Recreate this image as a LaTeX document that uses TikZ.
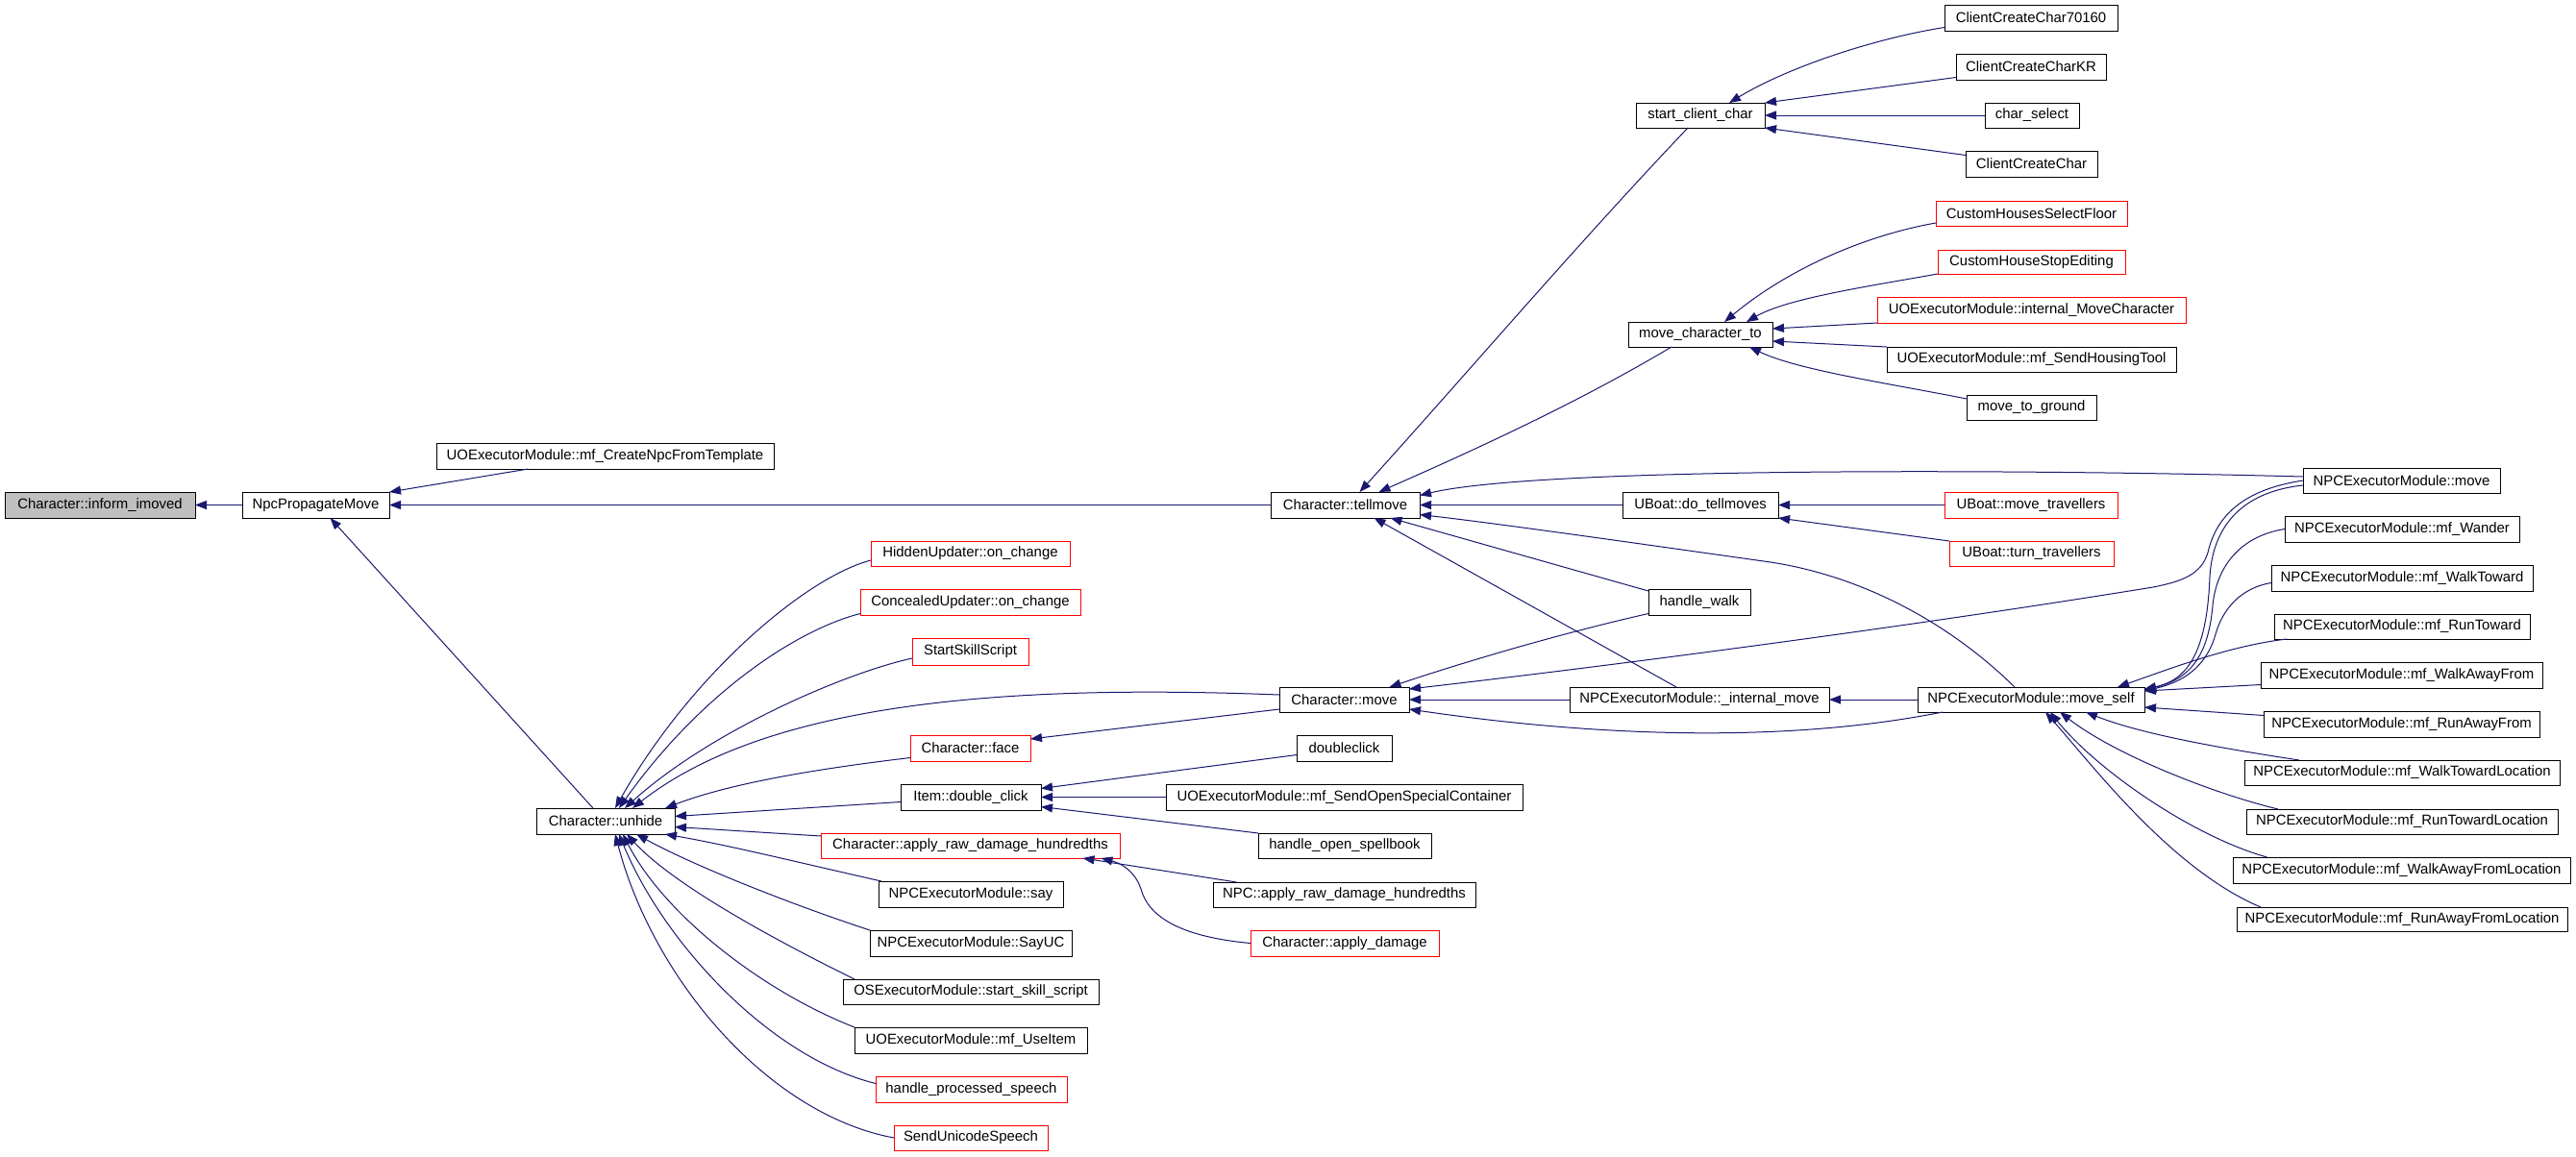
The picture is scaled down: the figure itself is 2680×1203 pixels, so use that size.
\documentclass[tikz,border=0pt]{standalone}
\usepackage{fontspec}
\setmainfont{Liberation Sans}
\usetikzlibrary{arrows.meta}
\definecolor{edgeblue}{HTML}{191970}
\definecolor{nodegrey}{HTML}{BFBFBF}
\definecolor{nodered}{HTML}{FF0000}
\newcommand\mkbox[7][]{\node[fn,#1,minimum width={#5-#3},minimum height={#6-#4}] (#2) at ({(#3+#5)/2},{(#4+#6)/2}) {#7};}
\tikzset{
  fn/.style={draw=black, line width=1pt, fill=white, inner sep=0pt, outer sep=0pt,
    font=\fontsize{14.9pt}{17pt}\selectfont, text=black},
  fnred/.style={draw=nodered},
  fngrey/.style={fill=nodegrey},
  edge/.style={draw=edgeblue, line width=1pt, -{Triangle[length=12pt,width=9pt]}},
}
\begin{document}
\begin{tikzpicture}[x=1pt,y=-1pt]
\fill[white] (0,0) rectangle (2680,1203);
\useasboundingbox (0,0) rectangle (2680,1203);
% column 0-2
\mkbox[fngrey]{inform}{5}{512}{203}{539}{Character::inform\_imoved}
\mkbox{npcprop}{252}{512}{405}{539}{NpcPropagateMove}
\mkbox{createnpc}{454}{461}{805}{488}{UOExecutorModule::mf\_CreateNpcFromTemplate}
\mkbox{unhide}{558}{841}{702}{868}{Character::unhide}
% column 3
\mkbox[fnred]{hidden}{906}{563}{1113}{589}{HiddenUpdater::on\_change}
\mkbox[fnred]{concealed}{895}{613}{1124}{640}{ConcealedUpdater::on\_change}
\mkbox[fnred]{startskill}{949}{664}{1070}{692}{StartSkillScript}
\mkbox[fnred]{face}{947}{765}{1072}{792}{Character::face}
\mkbox{dblclick}{937}{816}{1083}{843}{Item::double\_click}
\mkbox[fnred]{ard}{854}{867}{1165}{893}{Character::apply\_raw\_damage\_hundredths}
\mkbox{say}{914}{917}{1106}{944}{NPCExecutorModule::say}
\mkbox{sayuc}{905}{968}{1115}{995}{NPCExecutorModule::SayUC}
\mkbox{osexec}{877}{1019}{1143}{1045}{OSExecutorModule::start\_skill\_script}
\mkbox{useitem}{889}{1069}{1131}{1096}{UOExecutorModule::mf\_UseItem}
\mkbox[fnred]{hps}{911}{1120}{1110}{1147}{handle\_processed\_speech}
\mkbox[fnred]{sus}{930}{1171}{1090}{1197}{SendUnicodeSpeech}
% column 4
\mkbox{tellmove}{1322}{512}{1477}{539}{Character::tellmove}
\mkbox{charmove}{1331}{715}{1466}{741}{Character::move}
\mkbox{doubleclick}{1349}{765}{1448}{792}{doubleclick}
\mkbox{sendosc}{1213}{816}{1584}{843}{UOExecutorModule::mf\_SendOpenSpecialContainer}
\mkbox{hos}{1309}{867}{1489}{893}{handle\_open\_spellbook}
\mkbox{npcard}{1262}{918}{1535}{944}{NPC::apply\_raw\_damage\_hundredths}
\mkbox[fnred]{applydmg}{1301}{968}{1497}{995}{Character::apply\_damage}
% column 5
\mkbox{startcc}{1702}{107}{1836}{133}{start\_client\_char}
\mkbox{mchar}{1694}{335}{1844}{361}{move\_character\_to}
\mkbox{dotell}{1688}{512}{1850}{539}{UBoat::do\_tellmoves}
\mkbox{handlewalk}{1715}{613}{1821}{640}{handle\_walk}
\mkbox{intmove}{1633}{715}{1903}{741}{NPCExecutorModule::\_internal\_move}
% column 6
\mkbox{cc70160}{2023}{5}{2203}{32}{ClientCreateChar70160}
\mkbox{cckr}{2035}{56}{2191}{83}{ClientCreateCharKR}
\mkbox{charsel}{2065}{107}{2163}{133}{char\_select}
\mkbox{cc}{2045}{157}{2182}{184}{ClientCreateChar}
\mkbox[fnred]{chsf}{2014}{209}{2213}{235}{CustomHousesSelectFloor}
\mkbox[fnred]{chse}{2016}{260}{2211}{285}{CustomHouseStopEditing}
\mkbox[fnred]{intmc}{1953}{309}{2274}{336}{UOExecutorModule::internal\_MoveCharacter}
\mkbox{sendht}{1963}{361}{2264}{387}{UOExecutorModule::mf\_SendHousingTool}
\mkbox{mtg}{2046}{411}{2181}{437}{move\_to\_ground}
\mkbox[fnred]{movetrav}{2023}{512}{2203}{539}{UBoat::move\_travellers}
\mkbox[fnred]{turntrav}{2028}{563}{2199}{589}{UBoat::turn\_travellers}
\mkbox{moveself}{1995}{715}{2231}{741}{NPCExecutorModule::move\_self}
% column 7
\mkbox{npcmove}{2396}{487}{2601}{513}{NPCExecutorModule::move}
\mkbox{wander}{2377}{537}{2621}{564}{NPCExecutorModule::mf\_Wander}
\mkbox{walkt}{2363}{588}{2635}{615}{NPCExecutorModule::mf\_WalkToward}
\mkbox{runt}{2366}{639}{2632}{665}{NPCExecutorModule::mf\_RunToward}
\mkbox{walkaf}{2352}{689}{2645}{716}{NPCExecutorModule::mf\_WalkAwayFrom}
\mkbox{runaf}{2355}{740}{2642}{767}{NPCExecutorModule::mf\_RunAwayFrom}
\mkbox{walktl}{2335}{791}{2663}{817}{NPCExecutorModule::mf\_WalkTowardLocation}
\mkbox{runtl}{2337}{842}{2661}{868}{NPCExecutorModule::mf\_RunTowardLocation}
\mkbox{walkafl}{2323}{892}{2674}{919}{NPCExecutorModule::mf\_WalkAwayFromLocation}
\mkbox{runafl}{2327}{944}{2671}{969}{NPCExecutorModule::mf\_RunAwayFromLocation}

% ---- edges ----
\draw[edge] (npcprop.west) -- (inform.east);
\draw[edge] ([xshift=-80pt]createnpc.south) -- (npcprop.north east);
\draw[edge] (tellmove.west) -- (npcprop.east);
\draw[edge] ([xshift=-13pt]unhide.north) -- ([xshift=15pt]npcprop.south);
% to tellmove
\draw[edge] ([xshift=-13pt]startcc.south) .. controls (1640,255) and (1525,390) .. ([xshift=15pt]tellmove.north);
\draw[edge] ([xshift=-30pt]mchar.south) .. controls (1640,420) and (1530,470) .. ([xshift=35pt]tellmove.north);
\draw[edge] ([yshift=4pt]npcmove.west) .. controls (2100,488) and (1600,486) .. ([yshift=10pt]tellmove.east);
\draw[edge] (dotell.west) -- (tellmove.east);
\draw[edge] ([xshift=-17pt]moveself.north) .. controls (2030,650) and (1940,600) .. (1842,585) .. controls (1700,565) and (1560,545) .. ([yshift=-10pt]tellmove.east);
\draw[edge] ([yshift=-2pt]handlewalk.north west) -- ([xshift=47pt]tellmove.south);
\draw[edge] ([xshift=-24pt]intmove.north) -- ([xshift=30pt]tellmove.south);
% to start_client_char
\draw[edge] ([yshift=-10pt]cc70160.west) .. controls (1950,40) and (1860,70) .. ([xshift=30pt]startcc.north);
\draw[edge] ([yshift=-11pt]cckr.west) -- (startcc.north east);
\draw[edge] (charsel.west) -- (startcc.east);
\draw[edge] ([yshift=9pt]cc.west) -- (startcc.south east);
% to move_character_to
\draw[edge] ([yshift=-10pt]chsf.west) .. controls (1940,245) and (1860,280) .. ([xshift=25pt]mchar.north);
\draw[edge] (chse.south west) .. controls (1950,297) and (1860,310) .. ([xshift=48pt]mchar.north);
\draw[edge] (intmc.south west) -- ([yshift=6pt]mchar.east);
\draw[edge] (sendht.north west) -- ([yshift=-7pt]mchar.east);
\draw[edge] ([yshift=9pt]mtg.west) .. controls (1960,398) and (1870,385) .. ([xshift=51pt]mchar.south);
% to do_tellmoves
\draw[edge] (movetrav.west) -- (dotell.east);
\draw[edge] (turntrav.north west) -- (dotell.south east);
% to Character::move
\draw[edge] ([yshift=-12pt]handlewalk.west) .. controls (1620,660) and (1520,690) .. ([xshift=47pt]charmove.north);
\draw[edge] (npcmove.west) .. controls (2330,510) and (2305,540) .. (2297,575) .. controls (2290,598) and (2270,605) .. (2240,611) .. controls (2000,650) and (1700,690) .. ([yshift=-2pt]charmove.north east);
\draw[edge] (intmove.west) -- (charmove.east);
\draw[edge] ([xshift=-92pt]moveself.south) .. controls (1850,775) and (1650,765) .. ([yshift=-10pt]charmove.east);
% to _internal_move
\draw[edge] (moveself.west) -- (intmove.east);
% to move_self
\draw[edge] ([yshift=-5pt]npcmove.west) .. controls (2330,512) and (2302,550) .. (2299,600) .. controls (2296,680) and (2275,708) .. ([yshift=11pt]moveself.east);
\draw[edge] (wander.west) .. controls (2330,558) and (2306,590) .. (2302,630) .. controls (2297,690) and (2272,708) .. ([yshift=10pt]moveself.east);
\draw[edge] ([yshift=-5pt]walkt.west) .. controls (2330,612) and (2312,635) .. (2305,660) .. controls (2295,695) and (2270,710) .. ([yshift=9pt]moveself.east);
\draw[edge] ([xshift=-120pt]runt.south) .. controls (2320,672) and (2260,695) .. ([xshift=90pt]moveself.north);
\draw[edge] ([yshift=-10pt]walkaf.west) -- ([yshift=9pt]moveself.east);
\draw[edge] ([yshift=9pt]runaf.west) -- ([yshift=-8pt]moveself.east);
\draw[edge] ([xshift=-107pt]walktl.north) .. controls (2320,780) and (2230,765) .. ([xshift=57pt]moveself.south);
\draw[edge] ([xshift=-129pt]runtl.north) .. controls (2300,825) and (2200,785) .. ([xshift=30pt]moveself.south);
\draw[edge] ([xshift=-140pt]walkafl.north) .. controls (2280,870) and (2180,800) .. ([xshift=20pt]moveself.south);
\draw[edge] ([xshift=-147pt]runafl.north) .. controls (2260,905) and (2180,800) .. ([xshift=15pt]moveself.south);
% to Character::face
\draw[edge] ([yshift=-10pt]charmove.west) -- ([yshift=-4pt]face.north east);
% to Character::unhide
\draw[edge] ([yshift=-7pt]hidden.west) .. controls (840,600) and (720,700) .. ([xshift=10pt]unhide.north);
\draw[edge] ([yshift=-12pt]concealed.west) .. controls (830,655) and (730,720) .. ([xshift=14pt]unhide.north);
\draw[edge] ([yshift=-7pt]startskill.west) .. controls (880,700) and (740,760) .. ([xshift=20pt]unhide.north);
\draw[edge] ([yshift=5pt]charmove.west) .. controls (1050,712) and (800,730) .. ([xshift=28pt]unhide.north);
\draw[edge] ([yshift=-10pt]face.west) .. controls (850,800) and (760,815) .. ([xshift=62pt]unhide.north);
\draw[edge] ([yshift=-5pt]dblclick.west) -- ([yshift=5pt]unhide.east);
\draw[edge] ([yshift=10pt]ard.west) -- ([yshift=-6pt]unhide.east);
\draw[edge] ([xshift=-93pt]say.north) .. controls (820,895) and (760,880) .. ([xshift=62pt]unhide.south);
\draw[edge] (sayuc.north west) .. controls (820,940) and (720,900) .. ([xshift=32pt]unhide.south);
\draw[edge] ([xshift=12pt]osexec.north west) .. controls (800,975) and (700,920) .. ([xshift=22pt]unhide.south);
\draw[edge] (useitem.north west) .. controls (790,1030) and (690,950) .. ([xshift=18pt]unhide.south);
\draw[edge] ([yshift=6pt]hps.west) .. controls (800,1100) and (690,980) .. ([xshift=14pt]unhide.south);
\draw[edge] (sus.west) .. controls (800,1160) and (680,1020) .. ([xshift=10pt]unhide.south);
% to Item::double_click
\draw[edge] ([yshift=-7pt]doubleclick.west) -- ([yshift=9pt]dblclick.east);
\draw[edge] (sendosc.west) -- (dblclick.east);
\draw[edge] (hos.north west) -- ([yshift=-10pt]dblclick.east);
% to Character::apply_raw_damage_hundredths
\draw[edge] ([xshift=-112pt]npcard.north) -- ([xshift=117pt]ard.south);
\draw[edge] (applydmg.west) .. controls (1230,975) and (1195,955) .. (1187,925) .. controls (1180,905) and (1165,898) .. ([xshift=136pt]ard.south);
\end{tikzpicture}
\end{document}
